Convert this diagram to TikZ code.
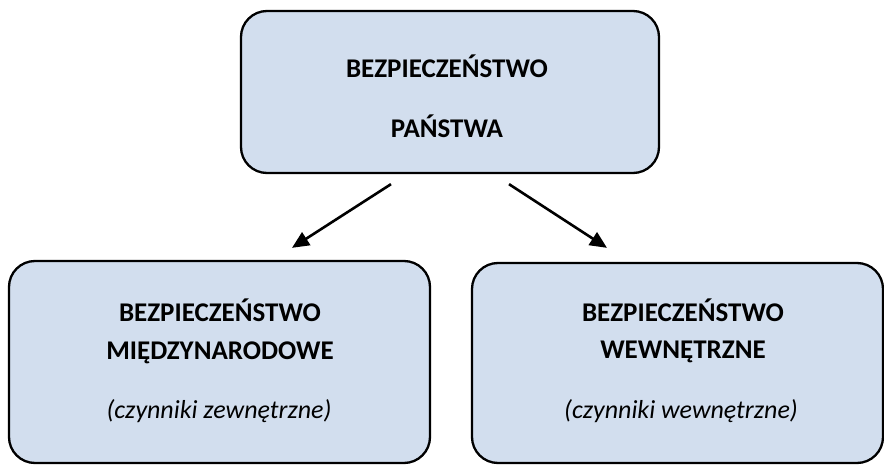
\documentclass[tikz,border=0pt]{standalone}
\usepackage{fontspec}
\setmainfont{Carlito}
\usetikzlibrary{arrows.meta,calc}
\definecolor{boxfill}{RGB}{210,222,238}
\tikzset{
  box/.style={draw=black, line width=2.3pt, fill=boxfill, rounded corners=26pt, inner sep=0pt},
  title/.style={font=\fontsize{27}{30}\selectfont\bfseries, anchor=base, inner sep=0pt},
  sub/.style={font=\fontsize{26}{30}\selectfont\itshape, anchor=base, inner sep=0pt},
  arr/.style={line width=2.6pt, -{Triangle[length=17pt,width=15pt]}}
}
\begin{document}
\begin{tikzpicture}[x=1pt,y=-1pt]
\useasboundingbox (0,0) rectangle (884,465);
\node[box, minimum width=418pt, minimum height=162pt] (top) at (450,92) {};
\node[box, minimum width=421pt, minimum height=202pt] (left) at (219.5,362) {};
\node[box, minimum width=411pt, minimum height=200pt] (right) at (677.5,363) {};
\node[title] (t1) at (447,78) {BEZPIECZEŃSTWO};
\node[title] (t2) at (447,138) {PAŃSTWA};
\node[title] (l1) at (220,321) {BEZPIECZEŃSTWO};
\node[title] (l2) at (220,359) {MIĘDZYNARODOWE};
\node[sub] (l3) at (219,418) {(czynniki zewnętrzne)};
\node[title] (r1) at (683,321) {BEZPIECZEŃSTWO};
\node[title] (r2) at (683,358) {WEWNĘTRZNE};
\node[sub] (r3) at (681,418) {(czynniki wewnętrzne)};
\draw[arr] ($(top.south)+(-59,10)$) -- ($(left.north)+(72.5,-12)$);
\draw[arr] ($(top.south)+(59,10)$) -- ($(right.north)+(-70.5,-14)$);
\end{tikzpicture}
\end{document}
